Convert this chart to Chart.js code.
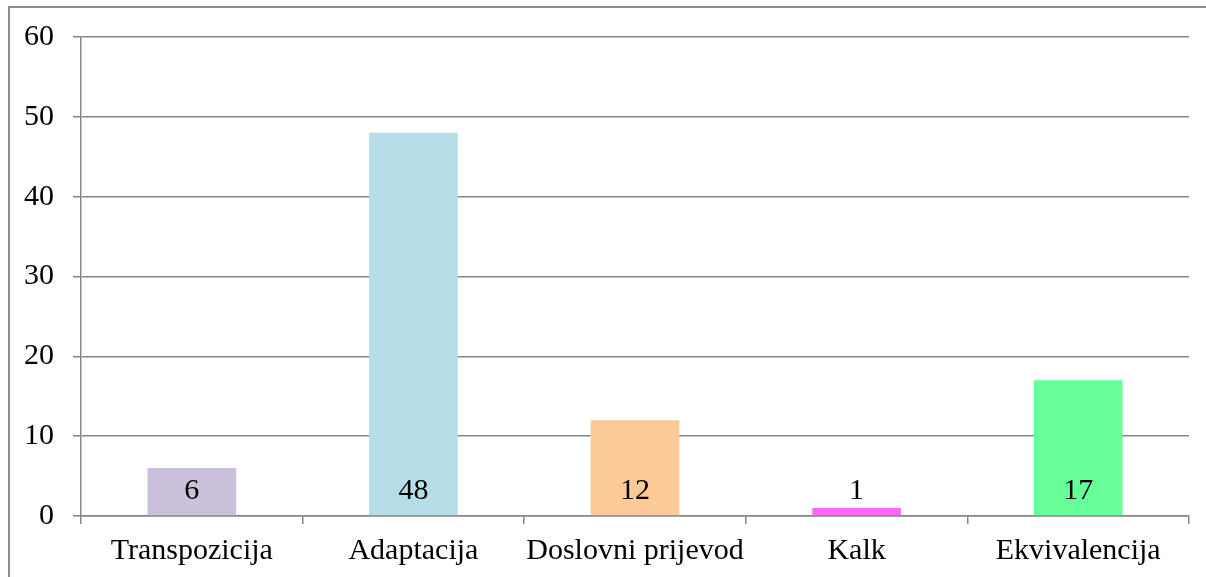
<!DOCTYPE html>
<html>
<head>
<meta charset="utf-8">
<script src="https://cdn.jsdelivr.net/npm/chart.js@4/dist/chart.umd.min.js"></script>
<style>
  html, body { margin: 0; padding: 0; background: #fff; overflow: hidden; }
  #wrap { position: relative; width: 1206px; height: 577px; }
  #frame { position: absolute; left: 8px; top: 6px; width: 1400px; height: 800px; border: 2px solid #8e8e8e; box-sizing: border-box; }
  canvas { position: absolute; left: 0; top: 0; }
</style>
</head>
<body>
<div id="wrap">
  <div id="frame"></div>
  <canvas id="chart" width="1206" height="577"></canvas>
</div>
<script>
const kategorije = ['Transpozicija', 'Adaptacija', 'Doslovni prijevod', 'Kalk', 'Ekvivalencija'];
const vrijednosti = [6, 48, 12, 1, 17];
const boje = ['#ccc1da', '#b7dee8', '#fcca96', '#ff66ff', '#66ff99'];
const yMax = 60;
const yKorak = 10;

const serif = "'Liberation Serif', 'Times New Roman', serif";
const siva = '#868686';

// oznake vrijednosti pri dnu stupca
const oznake = {
  id: 'oznake',
  afterDatasetsDraw(chart) {
    const ctx = chart.ctx;
    const y0 = chart.scales.y.getPixelForValue(0);
    const meta = chart.getDatasetMeta(0);
    ctx.save();
    ctx.font = '30px ' + serif;
    ctx.fillStyle = '#000';
    ctx.textAlign = 'center';
    ctx.textBaseline = 'middle';
    meta.data.forEach((bar, i) => {
      ctx.fillText(String(vrijednosti[i]), bar.x, y0 - 25);
    });
    ctx.restore();
  }
};

new Chart(document.getElementById('chart'), {
  type: 'bar',
  data: {
    labels: kategorije,
    datasets: [{
      data: vrijednosti,
      backgroundColor: boje,
      borderWidth: 0,
      barPercentage: 0.4,
      categoryPercentage: 1
    }]
  },
  options: {
    responsive: false,
    animation: false,
    layout: { padding: { top: 37, right: 17, left: 0, bottom: 0 } },
    plugins: { legend: { display: false }, tooltip: { enabled: false } },
    scales: {
      x: {
        afterFit: s => { s.height = 61; },
        grid: { drawOnChartArea: false, drawTicks: true, tickLength: 8, offset: true, color: siva, lineWidth: 1.5 },
        border: { color: siva, width: 1.5 },
        ticks: { color: '#000', font: { family: serif, size: 30 }, padding: 9, maxRotation: 0 }
      },
      y: {
        min: 0,
        max: yMax,
        afterFit: s => { s.width = 81; },
        grid: { color: siva, lineWidth: 1.5, tickLength: 8 },
        border: { color: siva, width: 1.5 },
        ticks: { stepSize: yKorak, color: '#000', font: { family: serif, size: 30 }, padding: 19 }
      }
    }
  },
  plugins: [oznake]
});
</script>
</body>
</html>
